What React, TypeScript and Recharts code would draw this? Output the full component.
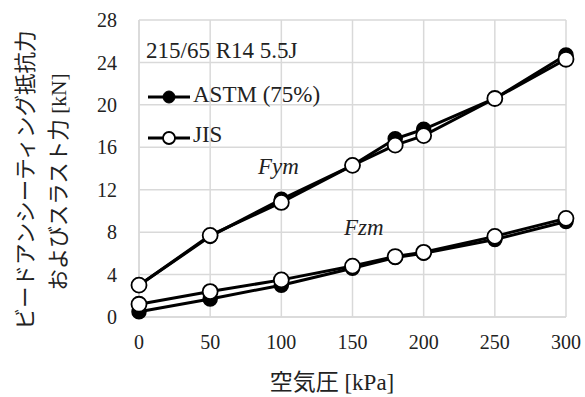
import React from "react";
import { LineChart, Line, XAxis, YAxis, CartesianGrid } from "recharts";

// air pressure [kPa]
const pressures = [0, 50, 100, 150, 180, 200, 250, 300];
// ASTM (75%) and JIS, bead unseating force Fym and thrust Fzm [kN]
const astmFym = [3.0, 7.6, 11.1, 14.3, 16.8, 17.7, 20.6, 24.7];
const jisFym = [3.0, 7.7, 10.8, 14.3, 16.2, 17.1, 20.6, 24.3];
const astmFzm = [0.5, 1.7, 3.0, 4.6, 5.6, 6.0, 7.3, 9.0];
const jisFzm = [1.2, 2.4, 3.5, 4.8, 5.7, 6.1, 7.6, 9.3];
const xTicks = [0, 50, 100, 150, 200, 250, 300];
const yTicks = [0, 4, 8, 12, 16, 20, 24, 28];

const data = pressures.map((p, i) => ({
  p,
  astmFym: astmFym[i],
  jisFym: jisFym[i],
  astmFzm: astmFzm[i],
  jisFzm: jisFzm[i],
}));

const FONT = '"Liberation Serif", "Noto Sans CJK JP", serif';
const GRID = "#d9d9d9";

const blackDot = { r: 7, fill: "#000", stroke: "#000", strokeWidth: 1.5 };
const whiteDot = { r: 7.5, fill: "#fff", stroke: "#000", strokeWidth: 1.8 };

export default function App() {
  const tick = { fontSize: 20, fill: "#222", fontFamily: FONT };
  return (
    <div style={{ position: "absolute", left: 0, top: 0, width: 585, height: 397, background: "#fff", fontFamily: FONT }}>
      <LineChart width={585} height={397} data={data} margin={{ top: 20, right: 19, bottom: 20, left: 0 }}>
        <CartesianGrid stroke={GRID} strokeWidth={1.5} />
        <XAxis
          dataKey="p"
          type="number"
          domain={[0, 300]}
          ticks={xTicks}
          height={60}
          tick={tick}
          tickLine={false}
          tickSize={0}
          tickMargin={18}
          axisLine={{ stroke: GRID, strokeWidth: 1.5 }}
        />
        <YAxis
          type="number"
          domain={[0, 28]}
          ticks={yTicks}
          width={139}
          tick={tick}
          tickLine={false}
          tickSize={0}
          tickMargin={22}
          axisLine={{ stroke: GRID, strokeWidth: 1.5 }}
        />
        <Line dataKey="astmFym" stroke="#000" strokeWidth={3} dot={blackDot} isAnimationActive={false} />
        <Line dataKey="astmFzm" stroke="#000" strokeWidth={3} dot={blackDot} isAnimationActive={false} />
        <Line dataKey="jisFym" stroke="#000" strokeWidth={3} dot={whiteDot} isAnimationActive={false} />
        <Line dataKey="jisFzm" stroke="#000" strokeWidth={3} dot={whiteDot} isAnimationActive={false} />
      </LineChart>
      <svg width={585} height={397} style={{ position: "absolute", left: 0, top: 0, pointerEvents: "none" }}>
        <g fontFamily={FONT} fontSize={23} fill="#222">
          <text x={146} y={58}>215/65 R14 5.5J</text>
          <line x1={148} y1={97} x2={190} y2={97} stroke="#000" strokeWidth={3} />
          <circle cx={169} cy={97} r={6} fill="#000" stroke="#000" />
          <text x={193} y={102}>ASTM (75%)</text>
          <line x1={148} y1={138} x2={190} y2={138} stroke="#000" strokeWidth={3} />
          <circle cx={169} cy={138} r={6} fill="#fff" stroke="#000" strokeWidth={1.8} />
          <text x={193} y={142}>JIS</text>
          <text x={258} y={174} fontStyle="italic">Fym</text>
          <text x={344} y={235} fontStyle="italic">Fzm</text>
          <text x={332} y={390} textAnchor="middle">空気圧 [kPa]</text>
          <g fontSize={21.5}>
            <text transform="translate(33,180) rotate(-90)" textAnchor="middle">ビードアンシーティング抵抗力</text>
            <text transform="translate(66,182) rotate(-90)" textAnchor="middle">およびスラスト力 [kN]</text>
          </g>
        </g>
      </svg>
    </div>
  );
}
